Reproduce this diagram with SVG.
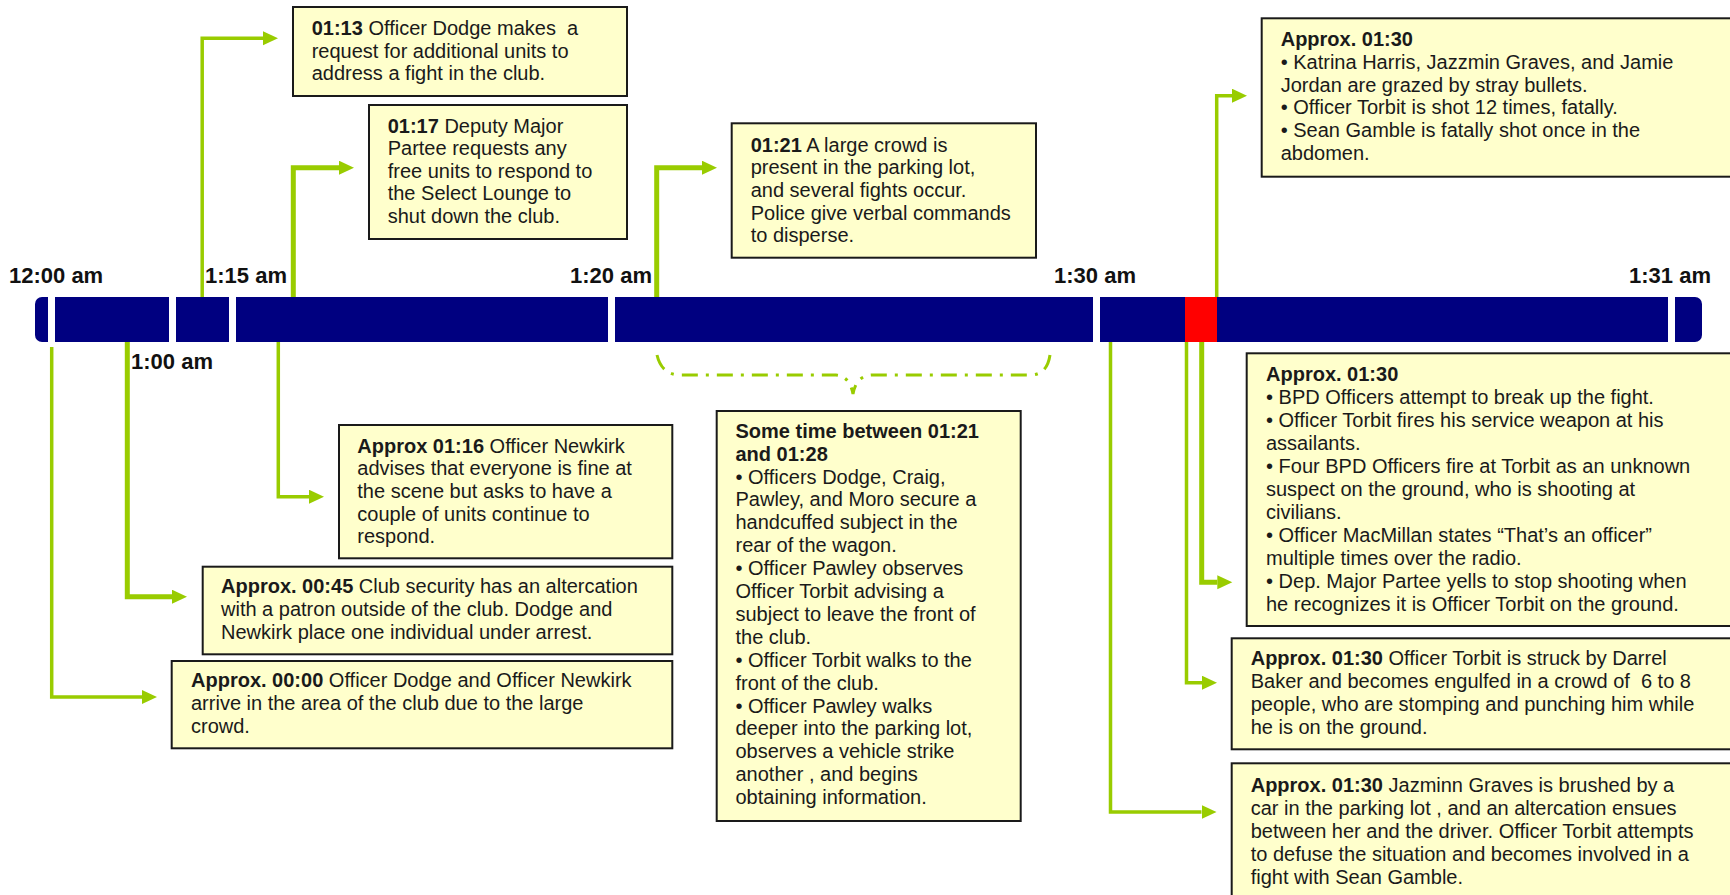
<svg xmlns="http://www.w3.org/2000/svg" width="1730" height="895" viewBox="0 0 1730 895">
<style>
text{font-family:"Liberation Sans",Arial,sans-serif;fill:#1a1a1a}
.t{font-size:20px}
.b{font-weight:bold}
.lbl{font-size:22px;font-weight:bold;fill:#111}
.box{fill:#FFFFCC;stroke:#1a1a1a;stroke-width:2}
.c{fill:none;stroke:#99CC00;stroke-width:3.5;marker-end:url(#arr)}
.k{stroke-width:5}
.gap{fill:#fff}
</style>
<defs>
<marker id="arr" markerUnits="userSpaceOnUse" markerWidth="16" markerHeight="15" refX="0" refY="7" orient="auto">
<path d="M0,0 L15,7 L0,14 z" fill="#99CC00"/>
</marker>
</defs>

<g id="timeline">
<rect x="35" y="297" width="1667" height="45" rx="7" fill="#000080"/>
<rect class="gap" x="48" y="295" width="7" height="49"/>
<rect class="gap" x="169" y="295" width="7" height="49"/>
<rect class="gap" x="229" y="295" width="7" height="49"/>
<rect class="gap" x="608" y="295" width="7" height="49"/>
<rect class="gap" x="1093" y="295" width="7" height="49"/>
<rect class="gap" x="1668" y="295" width="7" height="49"/>
<rect x="1185" y="297" width="32" height="45" fill="#FF0000"/>
</g>

<g id="labels">
<text class="lbl" x="9" y="283">12:00 am</text>
<text class="lbl" x="205" y="283">1:15 am</text>
<text class="lbl" x="570" y="283">1:20 am</text>
<text class="lbl" x="1054" y="283">1:30 am</text>
<text class="lbl" x="1629" y="283">1:31 am</text>
<text class="lbl" x="131" y="369">1:00 am</text>
</g>

<g id="connectors">
<path class="c" d="M51.7,347 V697 H142"/>
<path class="c k" d="M127.3,342 V596.7 H172"/>
<path class="c" d="M278.3,342 V496.7 H309"/>
<path class="c" d="M202.2,297 V38.3 H263"/>
<path class="c k" d="M293.3,297 V167.7 H339"/>
<path class="c k" d="M656.7,297 V167.7 H702"/>
<path class="c" d="M1216.7,297 V95.7 H1232"/>
<path class="c" d="M1110.5,342 V812 H1201.5"/>
<path class="c" d="M1186.5,342 V682.7 H1202"/>
<path class="c k" d="M1201.7,342 V582.3 H1217.3"/>
<path d="M657,355 C660,368 668,375 680,375 L836,375 C846,376 851,383 853,394 C855,383 860,376 871,375 L1030,375 C1042,375 1048,368 1050,355" fill="none" stroke="#99CC00" stroke-width="3" stroke-dasharray="16,8,3,8"/>
</g>

<g id="n0113">
<rect class="box" x="293" y="7" width="334" height="89"/>
<text class="t" x="311.7" y="35"><tspan class="b">01:13</tspan> Officer Dodge makes&#160; a</text>
<text class="t" x="311.7" y="57.5">request for additional units to</text>
<text class="t" x="311.7" y="80">address a fight in the club.</text>
</g>

<g id="n0117">
<rect class="box" x="369" y="105" width="258" height="134"/>
<text class="t" x="387.7" y="132.7"><tspan class="b">01:17</tspan> Deputy Major</text>
<text class="t" x="387.7" y="155.2">Partee requests any</text>
<text class="t" x="387.7" y="177.8">free units to respond to</text>
<text class="t" x="387.7" y="200.3">the Select Lounge to</text>
<text class="t" x="387.7" y="222.8">shut down the club.</text>
</g>

<g id="n0121">
<rect class="box" x="731.7" y="123.3" width="304.3" height="134.4"/>
<text class="t" x="750.7" y="151.7"><tspan class="b">01:21</tspan> A large crowd is</text>
<text class="t" x="750.7" y="174.3">present in the parking lot,</text>
<text class="t" x="750.7" y="197">and several fights occur.</text>
<text class="t" x="750.7" y="219.7">Police give verbal commands</text>
<text class="t" x="750.7" y="242.3">to disperse.</text>
</g>

<g id="n0130a">
<rect class="box" x="1261.7" y="18.3" width="470" height="158.4"/>
<text class="t b" x="1280.7" y="45.7">Approx. 01:30</text>
<text class="t" x="1280.7" y="68.7">• Katrina Harris, Jazzmin Graves, and Jamie</text>
<text class="t" x="1280.7" y="91.6">Jordan are grazed by stray bullets.</text>
<text class="t" x="1280.7" y="114.4">• Officer Torbit is shot 12 times, fatally.</text>
<text class="t" x="1280.7" y="137.3">• Sean Gamble is fatally shot once in the</text>
<text class="t" x="1280.7" y="160.2">abdomen.</text>
</g>

<g id="n0130b">
<rect class="box" x="1246.7" y="353.3" width="485" height="272.7"/>
<text class="t b" x="1266" y="380.7">Approx. 01:30</text>
<text class="t" x="1266" y="403.7">• BPD Officers attempt to break up the fight.</text>
<text class="t" x="1266" y="426.7">• Officer Torbit fires his service weapon at his</text>
<text class="t" x="1266" y="449.7">assailants.</text>
<text class="t" x="1266" y="472.7">• Four BPD Officers fire at Torbit as an unknown</text>
<text class="t" x="1266" y="495.7">suspect on the ground, who is shooting at</text>
<text class="t" x="1266" y="518.7">civilians.</text>
<text class="t" x="1266" y="541.7">• Officer MacMillan states “That’s an officer”</text>
<text class="t" x="1266" y="564.7">multiple times over the radio.</text>
<text class="t" x="1266" y="587.7">• Dep. Major Partee yells to stop shooting when</text>
<text class="t" x="1266" y="610.7">he recognizes it is Officer Torbit on the ground.</text>
</g>

<g id="n0130c">
<rect class="box" x="1231.7" y="638.3" width="500" height="111"/>
<text class="t" x="1250.7" y="665"><tspan class="b">Approx. 01:30</tspan> Officer Torbit is struck by Darrel</text>
<text class="t" x="1250.7" y="688">Baker and becomes engulfed in a crowd of&#160; 6 to 8</text>
<text class="t" x="1250.7" y="711">people, who are stomping and punching him while</text>
<text class="t" x="1250.7" y="734">he is on the ground.</text>
</g>

<g id="n0130d">
<rect class="box" x="1231.7" y="763.3" width="500" height="140"/>
<text class="t" x="1250.7" y="791.5"><tspan class="b">Approx. 01:30</tspan> Jazminn Graves is brushed by a</text>
<text class="t" x="1250.7" y="814.5">car in the parking lot , and an altercation ensues</text>
<text class="t" x="1250.7" y="837.5">between her and the driver. Officer Torbit attempts</text>
<text class="t" x="1250.7" y="860.5">to defuse the situation and becomes involved in a</text>
<text class="t" x="1250.7" y="883.5">fight with Sean Gamble.</text>
</g>

<g id="nsome">
<rect class="box" x="716.7" y="411" width="304" height="410"/>
<text class="t b" x="735.5" y="437.7">Some time between 01:21</text>
<text class="t b" x="735.5" y="460.6">and 01:28</text>
<text class="t" x="735.5" y="483.5">• Officers Dodge, Craig,</text>
<text class="t" x="735.5" y="506.4">Pawley, and Moro secure a</text>
<text class="t" x="735.5" y="529.3">handcuffed subject in the</text>
<text class="t" x="735.5" y="552.2">rear of the wagon.</text>
<text class="t" x="735.5" y="575.1">• Officer Pawley observes</text>
<text class="t" x="735.5" y="598">Officer Torbit advising a</text>
<text class="t" x="735.5" y="620.9">subject to leave the front of</text>
<text class="t" x="735.5" y="643.8">the club.</text>
<text class="t" x="735.5" y="666.7">• Officer Torbit walks to the</text>
<text class="t" x="735.5" y="689.6">front of the club.</text>
<text class="t" x="735.5" y="712.5">• Officer Pawley walks</text>
<text class="t" x="735.5" y="735.4">deeper into the parking lot,</text>
<text class="t" x="735.5" y="758.3">observes a vehicle strike</text>
<text class="t" x="735.5" y="781.2">another , and begins</text>
<text class="t" x="735.5" y="804.1">obtaining information.</text>
</g>

<g id="n0116">
<rect class="box" x="339" y="425" width="333.3" height="133.3"/>
<text class="t" x="357.3" y="452.7"><tspan class="b">Approx 01:16</tspan> Officer Newkirk</text>
<text class="t" x="357.3" y="475.3">advises that everyone is fine at</text>
<text class="t" x="357.3" y="498">the scene but asks to have a</text>
<text class="t" x="357.3" y="520.7">couple of units continue to</text>
<text class="t" x="357.3" y="543.3">respond.</text>
</g>

<g id="n0045">
<rect class="box" x="202.7" y="566.7" width="469.6" height="87.6"/>
<text class="t" x="221" y="593.3"><tspan class="b">Approx. 00:45</tspan> Club security has an altercation</text>
<text class="t" x="221" y="616.3">with a patron outside of the club. Dodge and</text>
<text class="t" x="221" y="639.3">Newkirk place one individual under arrest.</text>
</g>

<g id="n0000">
<rect class="box" x="171.7" y="661" width="500.6" height="87.3"/>
<text class="t" x="191" y="687.3"><tspan class="b">Approx. 00:00</tspan> Officer Dodge and Officer Newkirk</text>
<text class="t" x="191" y="710.3">arrive in the area of the club due to the large</text>
<text class="t" x="191" y="733.3">crowd.</text>
</g>
</svg>
